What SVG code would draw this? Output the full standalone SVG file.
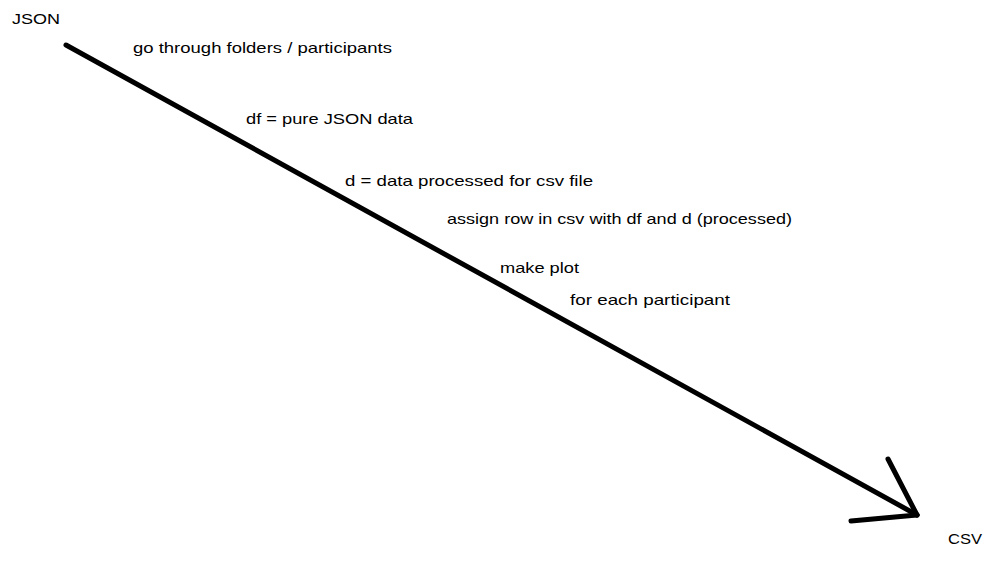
<svg xmlns="http://www.w3.org/2000/svg" width="1000" height="562" viewBox="0 0 1000 562">
<style>
.t{font-family:"Liberation Sans",Arial,sans-serif;font-size:15px;fill:#000}
.c{stroke:#000;stroke-width:5;stroke-linecap:round;fill:none}
</style>
<rect width="1000" height="562" fill="#fff"/>
<g id="node-json"><text class="t" x="12" y="24" textLength="48" lengthAdjust="spacingAndGlyphs">JSON</text></g>
<g id="node-csv"><text class="t" x="948" y="544" textLength="34" lengthAdjust="spacingAndGlyphs">CSV</text></g>
<g id="connectors">
<line class="c" x1="66" y1="45" x2="917" y2="515"/>
<line class="c" x1="888" y1="459" x2="917" y2="515"/>
<line class="c" x1="851" y1="521" x2="917" y2="515"/>
</g>
<g id="labels">
<text class="t" x="133" y="53" textLength="259" lengthAdjust="spacingAndGlyphs">go through folders / participants</text>
<text class="t" x="246" y="124" textLength="167" lengthAdjust="spacingAndGlyphs">df = pure JSON data</text>
<text class="t" x="345" y="186" textLength="248" lengthAdjust="spacingAndGlyphs">d = data processed for csv file</text>
<text class="t" x="447" y="224" textLength="345" lengthAdjust="spacingAndGlyphs">assign row in csv with df and d (processed)</text>
<text class="t" x="500" y="273" textLength="79" lengthAdjust="spacingAndGlyphs">make plot</text>
<text class="t" x="570" y="305" textLength="160" lengthAdjust="spacingAndGlyphs">for each participant</text>
</g>
</svg>
